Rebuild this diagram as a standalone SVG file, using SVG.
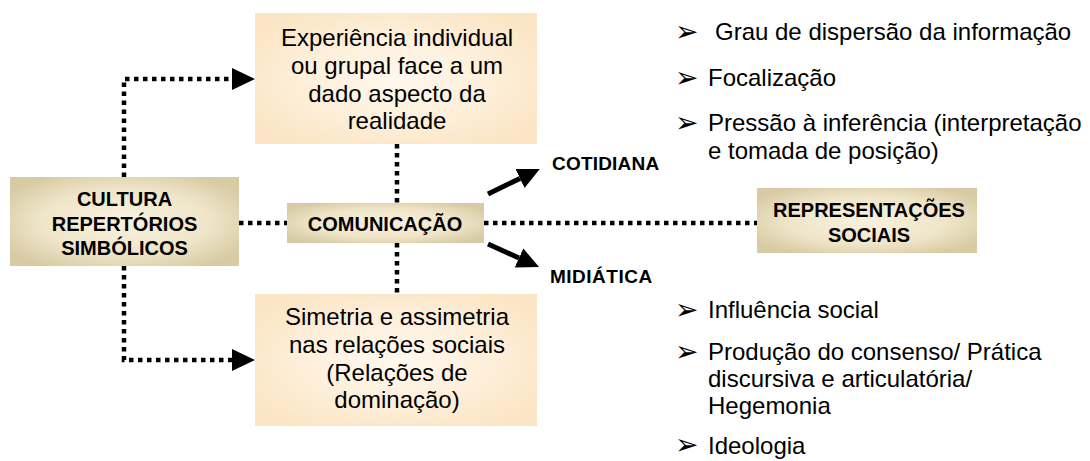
<svg xmlns="http://www.w3.org/2000/svg" width="1090" height="461" viewBox="0 0 1090 461">
<defs>
<radialGradient id="gBeige" cx="0.5" cy="0.5" r="0.6">
<stop offset="0" stop-color="#f8f1de"/>
<stop offset="0.6" stop-color="#efe5c9"/>
<stop offset="1" stop-color="#d8cba4"/>
</radialGradient>
<radialGradient id="gPeach" cx="0.5" cy="0.5" r="0.6">
<stop offset="0" stop-color="#fff8ee"/>
<stop offset="0.6" stop-color="#fdeed8"/>
<stop offset="1" stop-color="#fbe5c4"/>
</radialGradient>
<marker id="dotHead" markerUnits="userSpaceOnUse" markerWidth="24" markerHeight="24" refX="0" refY="12" orient="auto" viewBox="0 0 24 24">
<path d="M0,1 L23,12 L0,23 z" fill="#000"/>
</marker>
<marker id="solidHead" markerUnits="userSpaceOnUse" markerWidth="24" markerHeight="24" refX="0" refY="12" orient="auto" viewBox="0 0 24 24">
<path d="M0,1.5 L22,12 L0,22.5 z" fill="#000"/>
</marker>
<style>
.dot{fill:none;stroke:#000;stroke-width:4.5;stroke-dasharray:4.5 4.5}
.solid{fill:none;stroke:#000;stroke-width:5}
.reg{font-family:"Liberation Sans",Arial,sans-serif;font-size:24px;fill:#000}
.bold{font-family:"Liberation Sans",Arial,sans-serif;font-size:20px;font-weight:bold;fill:#000}
.lab{font-family:"Liberation Sans",Arial,sans-serif;font-size:19px;font-weight:bold;fill:#000}
.bul{font-family:"DejaVu Sans",sans-serif;font-size:28px;fill:#000}
.mid{text-anchor:middle}
</style>
</defs>
<g id="connectors">
<path class="dot" d="M124,177 V79 H232" marker-end="url(#dotHead)"/>
<path class="dot" d="M124,266 V360 H232" marker-end="url(#dotHead)"/>
<path class="dot" d="M239,223 H287"/>
<path class="dot" d="M484,223 H757"/>
<path class="dot" d="M397,144 V203"/>
<path class="dot" d="M397,243 V294"/>
<path class="solid" d="M488,194 L520,178.5" marker-end="url(#solidHead)"/>
<path class="solid" d="M488,244 L519,258" marker-end="url(#solidHead)"/>
</g>
<g id="cultura">
<rect x="10" y="177" width="229" height="89" fill="url(#gBeige)"/>
<text class="bold mid" x="124.5" y="206">CULTURA</text>
<text class="bold mid" x="124.5" y="231">REPERTÓRIOS</text>
<text class="bold mid" x="124.5" y="255">SIMBÓLICOS</text>
</g>
<g id="experiencia">
<rect x="255" y="13" width="282" height="131" fill="url(#gPeach)"/>
<text class="reg mid" x="397" y="46">Experiência individual</text>
<text class="reg mid" x="397" y="74">ou grupal face a um</text>
<text class="reg mid" x="397" y="101.5">dado aspecto da</text>
<text class="reg mid" x="397" y="129">realidade</text>
</g>
<g id="simetria">
<rect x="255" y="294" width="282" height="132" fill="url(#gPeach)"/>
<text class="reg mid" x="397" y="325">Simetria e assimetria</text>
<text class="reg mid" x="397" y="353">nas relações sociais</text>
<text class="reg mid" x="397" y="380.5">(Relações de</text>
<text class="reg mid" x="397" y="408">dominação)</text>
</g>
<g id="comunicacao">
<rect x="287" y="203" width="197" height="40" fill="url(#gBeige)"/>
<text class="bold mid" x="385" y="231">COMUNICAÇÃO</text>
</g>
<g id="representacoes">
<rect x="757" y="188" width="220" height="65" fill="url(#gBeige)"/>
<text class="bold mid" x="869" y="217">REPRESENTAÇÕES</text>
<text class="bold mid" x="869" y="242">SOCIAIS</text>
</g>
<g id="cotidiana">
<text class="lab" x="552" y="170" letter-spacing="0.2">COTIDIANA</text>
</g>
<g id="midiatica">
<text class="lab" x="550" y="283" letter-spacing="0.5">MIDIÁTICA</text>
</g>
<g id="lista-cotidiana">
<text class="bul" x="675" y="41">➢</text>
<text class="reg" x="715" y="40">Grau de dispersão da informação</text>
<text class="bul" x="675" y="87">➢</text>
<text class="reg" x="708" y="86">Focalização</text>
<text class="bul" x="675" y="132">➢</text>
<text class="reg" x="708" y="131">Pressão à inferência (interpretação</text>
<text class="reg" x="708" y="159">e tomada de posição)</text>
</g>
<g id="lista-midiatica">
<text class="bul" x="675" y="319">➢</text>
<text class="reg" x="708" y="318">Influência social</text>
<text class="bul" x="675" y="361">➢</text>
<text class="reg" x="708" y="360">Produção do consenso/ Prática</text>
<text class="reg" x="708" y="387">discursiva e articulatória/</text>
<text class="reg" x="708" y="414">Hegemonia</text>
<text class="bul" x="675" y="454">➢</text>
<text class="reg" x="708" y="454">Ideologia</text>
</g>
</svg>
